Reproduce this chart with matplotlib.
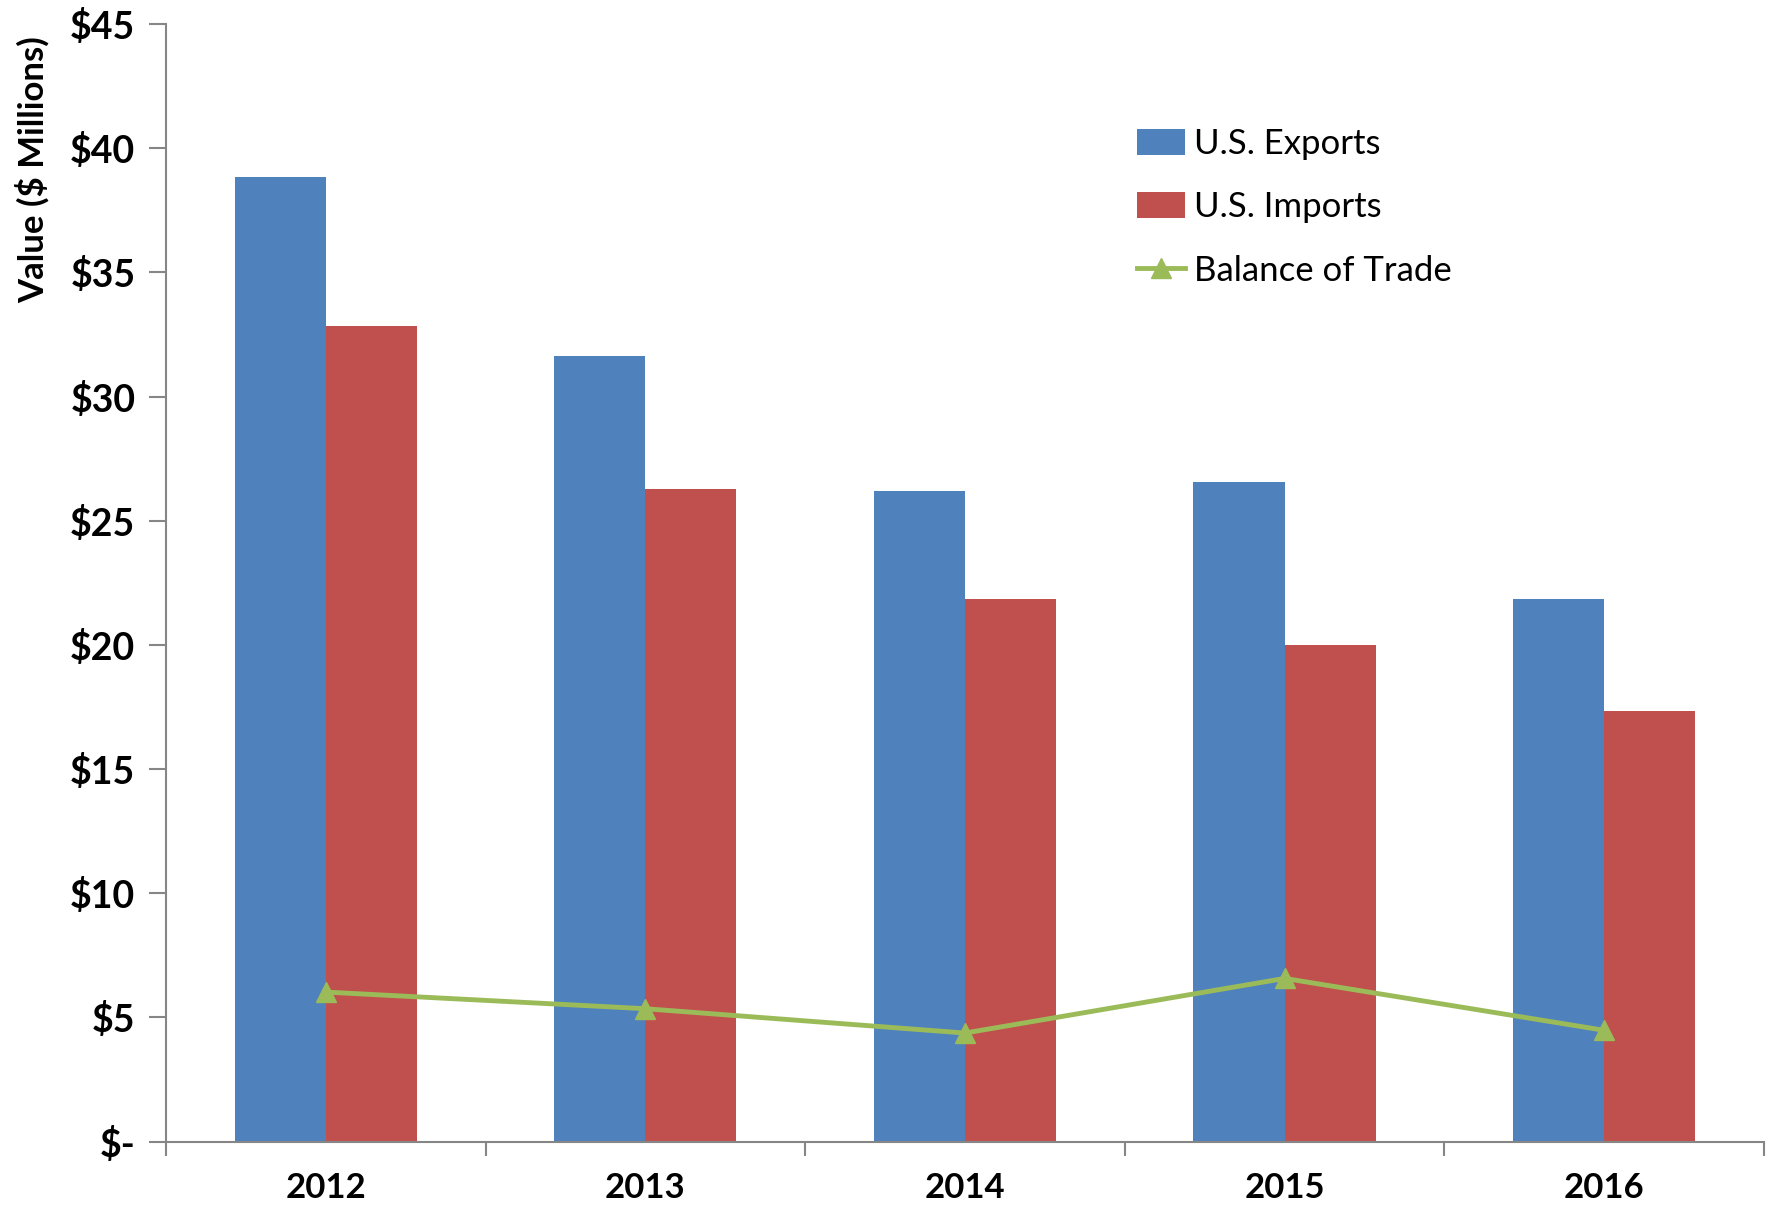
import matplotlib
matplotlib.use("Agg")
import matplotlib.pyplot as plt
import numpy as np
from matplotlib.ticker import FuncFormatter

years = ["2012", "2013", "2014", "2015", "2016"]
exports = [38.85, 31.65, 26.2, 26.57, 21.83]
imports = [32.83, 26.3, 21.83, 20.0, 17.35]
balance = [6.02, 5.35, 4.37, 6.57, 4.48]
yticks = [0, 5, 10, 15, 20, 25, 30, 35, 40, 45]

plt.rcParams['font.family'] = ['Lato', 'DejaVu Sans']

fig = plt.figure(figsize=(17.75, 12.08), dpi=100)
ax = fig.add_axes([0.0935, 0.055, 0.9003, 0.925])

x = np.arange(len(years))
w = 0.285
ax.bar(x - w/2, exports, w, color="#4F81BD", label="U.S. Exports", zorder=2)
ax.bar(x + w/2, imports, w, color="#C0504D", label="U.S. Imports", zorder=2)
ax.plot(x, balance, color="#9BBB59", lw=3.5, marker="^", ms=15,
        label="Balance of Trade", zorder=3)

ax.set_xlim(-0.5, len(years) - 0.5)
ax.set_ylim(0, 45)
ax.set_yticks(yticks)
ax.yaxis.set_major_formatter(FuncFormatter(lambda v, p: "$-" if v == 0 else f"${v:g}"))
ax.set_xticks(x)
ax.set_xticklabels(years)
ax.set_xticks(np.arange(len(years) + 1) - 0.5, minor=True)
ax.tick_params(axis='x', which='major', length=0, pad=22)
ax.tick_params(axis='x', which='minor', length=10, width=1.5, color="#868686", direction='out')
ax.tick_params(axis='y', length=12, width=1.5, color="#868686", direction='out', pad=10)
for lbl in ax.get_xticklabels():
    lbl.set_fontsize(25)
    lbl.set_fontweight('bold')
for lbl in ax.get_yticklabels():
    lbl.set_fontsize(27)
    lbl.set_fontweight('bold')

for s in ["top", "right"]:
    ax.spines[s].set_visible(False)
for s in ["left", "bottom"]:
    ax.spines[s].set_color("#868686")
    ax.spines[s].set_linewidth(1.5)

ax.set_ylabel("Value ($ Millions)", fontsize=25, fontweight='bold')
ax.yaxis.set_label_coords(-0.073, 0.87)

handles, labels = ax.get_legend_handles_labels()
order = [1, 2, 0]
leg = ax.legend([handles[i] for i in order], [labels[i] for i in order],
                loc="upper left", bbox_to_anchor=(0.588, 0.935), frameon=False,
                fontsize=25, handlelength=1.4, handleheight=0.75, handletextpad=0.25,
                labelspacing=0.9)

fig.savefig("out.png", dpi=100)
